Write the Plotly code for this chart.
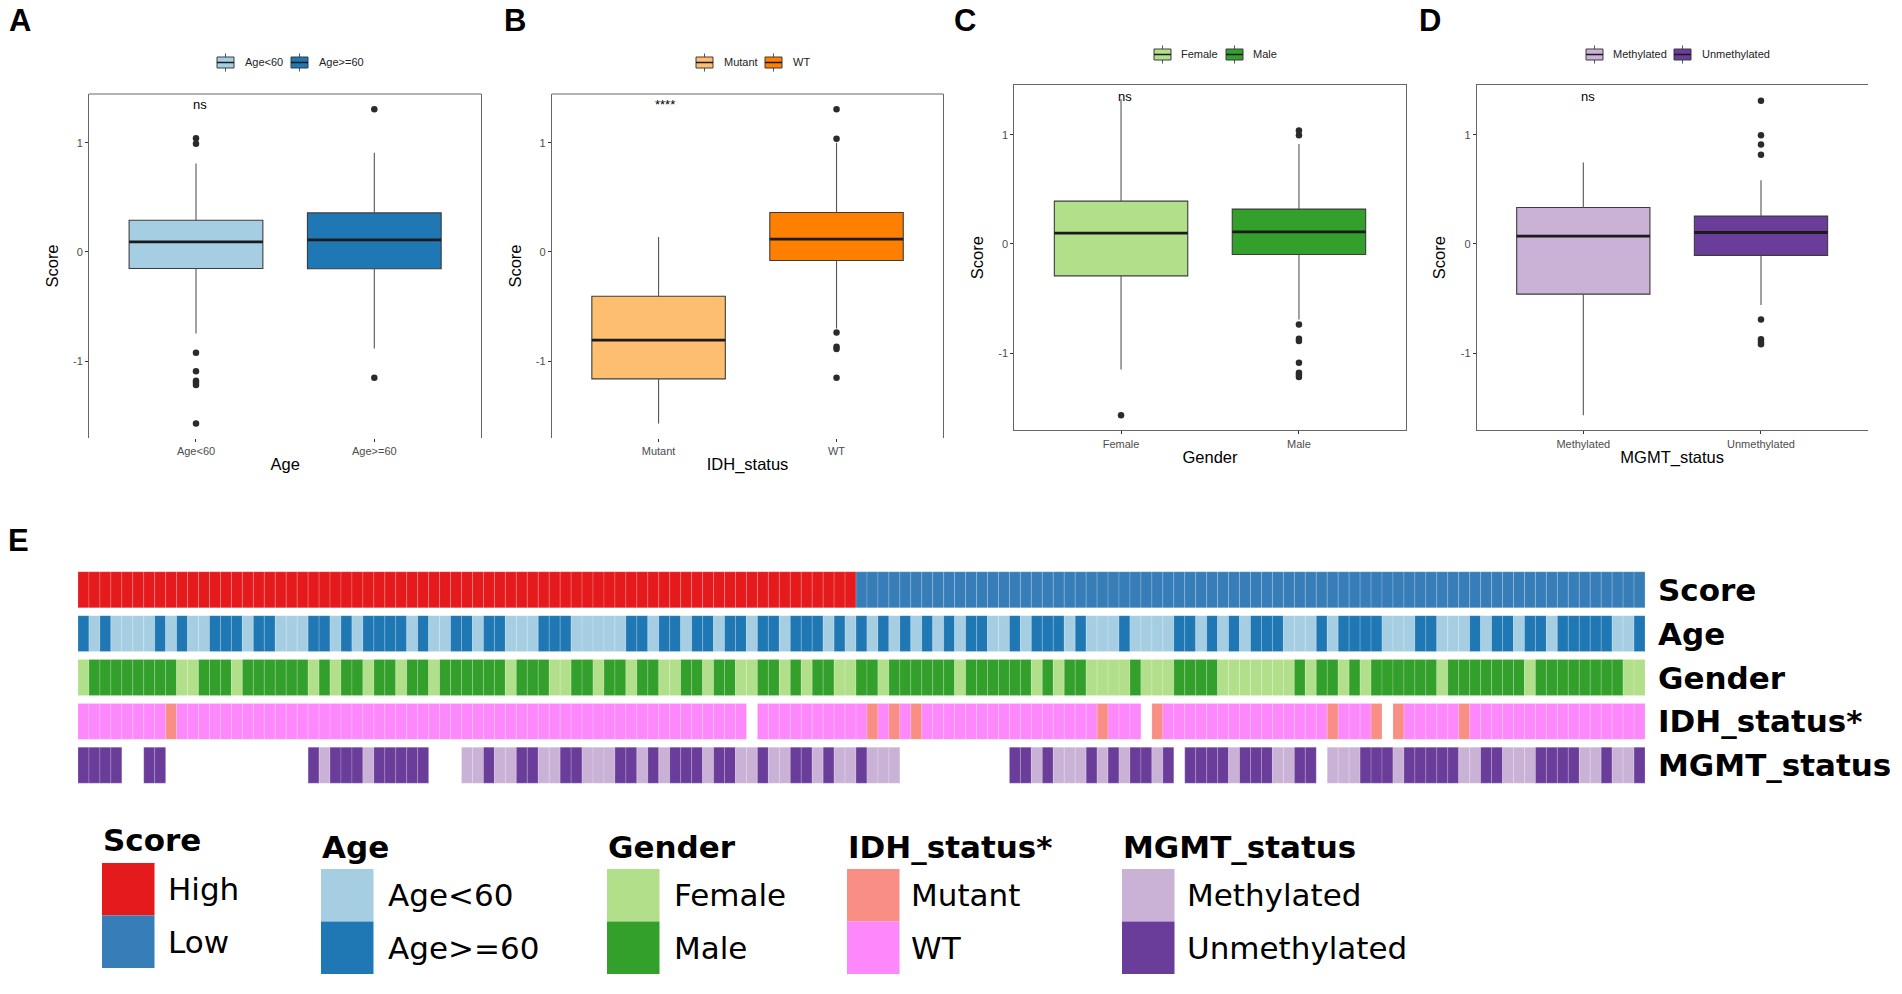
import plotly.graph_objects as go

W, H = 1902, 994


def px(x):
    return x / W


def py(y):
    return 1 - y / H


# ---------------- Box-plot data (panels A-D) ----------------
a_cats = ["Age<60", "Age>=60"]
a_q1 = [-0.152, -0.155]
a_med = [0.092, 0.110]
a_q3 = [0.290, 0.357]
a_lo = [-0.747, -0.885]
a_hi = [0.810, 0.907]
a_out = [[1.04, 0.99, -0.925, -1.093, -1.18, -1.20, -1.22, -1.572], [1.307, -1.154]]

b_cats = ["Mutant", "WT"]
b_q1 = [-1.163, -0.079]
b_med = [-0.809, 0.116]
b_q3 = [-0.406, 0.361]
b_lo = [-1.572, -0.702]
b_hi = [0.137, 1.000]
b_out = [[], [1.307, 1.035, -0.738, -0.87, -0.89, -1.154]]

c_cats = ["Female", "Male"]
c_q1 = [-0.293, -0.097]
c_med = [0.098, 0.110]
c_q3 = [0.391, 0.318]
c_lo = [-1.150, -0.692]
c_hi = [1.325, 0.915]
c_out = [[-1.569], [1.038, 0.995, -0.738, -0.87, -0.89, -1.09, -1.18, -1.20, -1.22]]

d_cats = ["Methylated", "Unmethylated"]
d_q1 = [-0.461, -0.106]
d_med = [0.070, 0.104]
d_q3 = [0.333, 0.254]
d_lo = [-1.569, -0.561]
d_hi = [0.745, 0.583]
d_out = [[], [1.31, 0.995, 0.91, 0.815, -0.692, -0.873, -0.90, -0.92]]

sig_labels = ["ns", "****", "ns", "ns"]
sig_x = [0.02, 0.035, 0.02, 0.024]
sig_y = [1.35, 1.35, 1.35, 1.35]

x_titles = ["Age", "IDH_status", "Gender", "MGMT_status"]
panel_letters = ["A", "B", "C", "D"]

# ---------------- Heatmap annotation data (panel E) ----------------
N = None
score_row = [1, 1, 1, 1, 1, 1, 1, 1, 1, 1,
             1, 1, 1, 1, 1, 1, 1, 1, 1, 1,
             1, 1, 1, 1, 1, 1, 1, 1, 1, 1,
             1, 1, 1, 1, 1, 1, 1, 1, 1, 1,
             1, 1, 1, 1, 1, 1, 1, 1, 1, 1,
             1, 1, 1, 1, 1, 1, 1, 1, 1, 1,
             1, 1, 1, 1, 1, 1, 1, 1, 1, 1,
             1, 0, 0, 0, 0, 0, 0, 0, 0, 0,
             0, 0, 0, 0, 0, 0, 0, 0, 0, 0,
             0, 0, 0, 0, 0, 0, 0, 0, 0, 0,
             0, 0, 0, 0, 0, 0, 0, 0, 0, 0,
             0, 0, 0, 0, 0, 0, 0, 0, 0, 0,
             0, 0, 0, 0, 0, 0, 0, 0, 0, 0,
             0, 0, 0, 0, 0, 0, 0, 0, 0, 0,
             0, 0, 0]  # 1 = High, 0 = Low

age_row = [1, 0, 1, 0, 0, 0, 0, 1, 0, 1,
           0, 0, 1, 1, 1, 0, 1, 1, 0, 0,
           0, 1, 1, 0, 1, 0, 1, 1, 1, 1,
           0, 1, 0, 0, 1, 1, 0, 1, 1, 0,
           0, 0, 1, 1, 1, 0, 0, 0, 0, 0,
           1, 1, 0, 1, 1, 0, 1, 1, 0, 1,
           1, 0, 1, 1, 0, 1, 1, 1, 0, 1,
           0, 1, 0, 1, 0, 1, 0, 1, 0, 1,
           0, 1, 1, 0, 0, 1, 0, 1, 1, 1,
           0, 1, 0, 0, 0, 1, 0, 0, 0, 0,
           1, 1, 0, 1, 0, 1, 0, 1, 1, 1,
           0, 0, 0, 1, 0, 1, 1, 1, 1, 0,
           0, 0, 1, 1, 0, 0, 0, 1, 0, 1,
           1, 0, 1, 1, 0, 1, 1, 1, 1, 1,
           0, 0, 1]  # 1 = Age>=60, 0 = Age<60

gender_row = [0, 1, 1, 1, 1, 1, 1, 1, 1, 0,
              0, 1, 1, 1, 0, 1, 1, 1, 1, 1,
              1, 0, 1, 0, 1, 1, 0, 1, 1, 0,
              1, 1, 0, 1, 1, 1, 1, 1, 1, 0,
              1, 1, 1, 0, 0, 1, 1, 0, 1, 1,
              0, 1, 1, 0, 0, 1, 1, 0, 1, 1,
              0, 0, 1, 1, 0, 1, 0, 1, 1, 0,
              0, 1, 1, 0, 1, 1, 1, 1, 1, 1,
              0, 1, 1, 1, 1, 1, 1, 0, 1, 0,
              1, 1, 0, 0, 0, 0, 1, 0, 0, 0,
              1, 1, 1, 1, 0, 0, 0, 0, 0, 0,
              0, 1, 0, 1, 1, 0, 1, 0, 1, 1,
              1, 1, 1, 1, 0, 1, 1, 1, 1, 1,
              1, 1, 0, 1, 1, 1, 1, 1, 1, 1,
              1, 0, 0]  # 1 = Male, 0 = Female

idh_row = [1, 1, 1, 1, 1, 1, 1, 1, 0, 1,
           1, 1, 1, 1, 1, 1, 1, 1, 1, 1,
           1, 1, 1, 1, 1, 1, 1, 1, 1, 1,
           1, 1, 1, 1, 1, 1, 1, 1, 1, 1,
           1, 1, 1, 1, 1, 1, 1, 1, 1, 1,
           1, 1, 1, 1, 1, 1, 1, 1, 1, 1,
           1, N, 1, 1, 1, 1, 1, 1, 1, 1,
           1, 1, 0, 1, 0, 1, 0, 1, 1, 1,
           1, 1, 1, 1, 1, 1, 1, 1, 1, 1,
           1, 1, 1, 0, 1, 1, 1, N, 0, 1,
           1, 1, 1, 1, 1, 1, 1, 1, 1, 1,
           1, 1, 1, 1, 0, 1, 1, 1, 0, N,
           0, 1, 1, 1, 1, 1, 0, 1, 1, 1,
           1, 1, 1, 1, 1, 1, 1, 1, 1, 1,
           1, 1, 1]  # 1 = WT, 0 = Mutant

mgmt_row = [1, 1, 1, 1, N, N, 1, 1, N, N,
            N, N, N, N, N, N, N, N, N, N,
            N, 1, 0, 1, 1, 1, 0, 1, 1, 1,
            1, 1, N, N, N, 0, 0, 1, 0, 0,
            1, 1, 0, 0, 1, 1, 0, 0, 0, 1,
            1, 0, 1, 0, 1, 1, 1, 0, 1, 1,
            0, 0, 1, 0, 0, 1, 1, 0, 1, 0,
            0, 1, 0, 0, 0, N, N, N, N, N,
            N, N, N, N, N, 1, 1, 0, 1, 0,
            0, 0, 1, 0, 1, 0, 1, 1, 0, 1,
            N, 1, 1, 1, 1, 0, 1, 1, 1, 0,
            0, 1, 1, N, 0, 0, 0, 1, 1, 1,
            0, 1, 1, 1, 1, 1, 0, 0, 1, 1,
            0, 0, 0, 1, 1, 1, 1, 0, 0, 1,
            0, 0, 1]  # 1 = Unmethylated, 0 = Methylated

row_names = ["Score", "Age", "Gender", "IDH_status*", "MGMT_status"]
row_levels = [["Low", "High"], ["Age<60", "Age>=60"], ["Female", "Male"],
              ["Mutant", "WT"], ["Methylated", "Unmethylated"]]

# colours
score_cols = ["#377EB8", "#E41A1C"]
age_cols = ["#A6CEE3", "#1F78B4"]
gender_cols = ["#B2DF8A", "#33A02C"]
idh_cols = ["#F98F84", "#FD88FB"]
mgmt_cols = ["#CAB2D6", "#6A3D9A"]
box_a_cols = ["#A6CEE3", "#1F78B4"]
box_b_cols = ["#FDBF6F", "#FF7F00"]
box_c_cols = ["#B2DF8A", "#33A02C"]
box_d_cols = ["#CAB2D6", "#6A3D9A"]

fig = go.Figure()

panels = [
    (a_cats, a_q1, a_med, a_q3, a_lo, a_hi, a_out, box_a_cols),
    (b_cats, b_q1, b_med, b_q3, b_lo, b_hi, b_out, box_b_cols),
    (c_cats, c_q1, c_med, c_q3, c_lo, c_hi, c_out, box_c_cols),
    (d_cats, d_q1, d_med, d_q3, d_lo, d_hi, d_out, box_d_cols),
]

BOXW = 0.75
EDGE = "#3c3c3c"
for k, (cats, q1, med, q3, lo, hi, outs, cols) in enumerate(panels, start=1):
    xa = "x" if k == 1 else f"x{k}"
    ya = "y" if k == 1 else f"y{k}"
    for i, cat in enumerate(cats):
        fig.add_trace(go.Scatter(
            x=[i, i, None, i, i], y=[q3[i], hi[i], None, q1[i], lo[i]], mode="lines",
            line=dict(color="#555555", width=1.1), showlegend=False,
            xaxis=xa, yaxis=ya, hoverinfo="skip"))
        fig.add_trace(go.Bar(
            x=[i], y=[q3[i] - q1[i]], base=[q1[i]], width=BOXW,
            marker=dict(color=cols[i], line=dict(color=EDGE, width=1.1)),
            name=cat, showlegend=False, xaxis=xa, yaxis=ya, hoverinfo="skip"))
        fig.add_trace(go.Scatter(
            x=[i - BOXW / 2, i + BOXW / 2], y=[med[i], med[i]], mode="lines",
            line=dict(color="#1b1b1b", width=2.8), showlegend=False,
            xaxis=xa, yaxis=ya, hoverinfo="skip"))
        if outs[i]:
            fig.add_trace(go.Scatter(
                x=[i] * len(outs[i]), y=outs[i], mode="markers",
                marker=dict(size=6.5, color="#2b2b2b"), showlegend=False,
                xaxis=xa, yaxis=ya, hoverinfo="skip"))

# heatmap rows drawn as unit-width cells (bars) on a numeric axis
rows = [score_row, age_row, gender_row, idh_row, mgmt_row]
row_cols = [score_cols, age_cols, gender_cols, idh_cols, mgmt_cols]
CELL_H = 0.82
n_rows = len(rows)
for r, (name, vals, cols) in enumerate(zip(row_names, rows, row_cols)):
    centre = n_rows - 1 - r
    heights = [CELL_H if v is not None else None for v in vals]
    colors = [cols[v] if v is not None else "rgba(0,0,0,0)" for v in vals]
    fig.add_trace(go.Bar(
        x=list(range(len(vals))), y=heights, base=centre - CELL_H / 2, width=1,
        marker=dict(color=colors, line=dict(color="rgba(255,255,255,0.3)", width=0.6)),
        name=name, showlegend=False, xaxis="x5", yaxis="y5", hoverinfo="skip"))

# ---------------- layout ----------------
base_font = "Liberation Sans"
tick_font = dict(family=base_font, size=11, color="#4d4d4d")
title_font = dict(family=base_font, size=16.5, color="#000000")

panel_x = [(89, 481.3), (551.8, 943.3), (1014.3, 1405.7), (1476.7, 1867.6)]
panel_y = [(94, 438), (94, 438), (85, 430.3), (85, 430.3)]
panel_range = [(-1.705, 1.446), (-1.705, 1.446), (-1.708, 1.455), (-1.708, 1.455)]
legend_keys = [
    ([217, 291], [243, 317], 62.5),
    ([696, 765], [722, 791], 62.5),
    ([1154, 1226], [1179, 1251], 54.5),
    ([1586, 1674], [1611, 1700], 54.5),
]
letter_x = [7, 502, 952, 1417]

layout = dict(
    width=W, height=H, margin=dict(l=0, r=0, t=0, b=0),
    paper_bgcolor="white", plot_bgcolor="white",
    font=dict(family=base_font, color="#000000"),
    showlegend=False, barmode="overlay",
)

annotations = []
shapes = []
for k in range(1, 5):
    sfx = "" if k == 1 else str(k)
    x0, x1 = panel_x[k - 1]
    y0, y1 = panel_y[k - 1]
    cats = panels[k - 1][0]
    cols = panels[k - 1][7]
    full_box_x = k in (3, 4)
    layout[f"xaxis{sfx}"] = dict(
        domain=[px(x0), px(x1)], range=[-0.6, 1.6], anchor=f"y{sfx}",
        tickvals=[0, 1], ticktext=cats, ticks="outside", ticklen=3,
        tickcolor="#333333", tickfont=tick_font, showgrid=False, zeroline=False,
        showline=full_box_x, mirror=True if full_box_x else False,
        linecolor="#666666", linewidth=1,
        title=dict(text=x_titles[k - 1], font=title_font, standoff=2),
        fixedrange=True)
    layout[f"yaxis{sfx}"] = dict(
        domain=[py(y1), py(y0)], range=list(panel_range[k - 1]), anchor=f"x{sfx}",
        tickvals=[-1, 0, 1], ticktext=["-1", "0", "1"], ticks="outside", ticklen=3,
        tickcolor="#333333", tickfont=tick_font, showgrid=False, zeroline=False,
        showline=True, mirror=(k != 4), linecolor="#666666", linewidth=1,
        title=dict(text="Score", font=title_font, standoff=10),
        fixedrange=True)
    if not full_box_x:
        shapes.append(dict(type="line", xref="paper", yref="paper",
                           x0=px(x0), x1=px(x1), y0=py(y0), y1=py(y0),
                           line=dict(color="#666666", width=1)))
    kx, tx, ky = legend_keys[k - 1]
    for i, cat in enumerate(cats):
        shapes.append(dict(type="line", xref="paper", yref="paper",
                           x0=px(kx[i] + 8.5), x1=px(kx[i] + 8.5),
                           y0=py(ky - 9), y1=py(ky + 9),
                           line=dict(color="#555555", width=1)))
        shapes.append(dict(type="rect", xref="paper", yref="paper",
                           x0=px(kx[i]), x1=px(kx[i] + 17),
                           y0=py(ky + 5.5), y1=py(ky - 5.5),
                           fillcolor=cols[i], line=dict(color=EDGE, width=1)))
        shapes.append(dict(type="line", xref="paper", yref="paper",
                           x0=px(kx[i]), x1=px(kx[i] + 17), y0=py(ky), y1=py(ky),
                           line=dict(color="#1b1b1b", width=1.5)))
        annotations.append(dict(
            text=cat, x=px(tx[i]), y=py(ky), xref="paper", yref="paper",
            showarrow=False, xanchor="left", yanchor="middle",
            font=dict(family=base_font, size=11, color="#222222")))
    annotations.append(dict(
        text=sig_labels[k - 1], x=sig_x[k - 1], y=sig_y[k - 1],
        xref=f"x{sfx}", yref=f"y{sfx}", showarrow=False,
        font=dict(family=base_font, size=13, color="#000000"),
        xanchor="center", yanchor="middle"))
    annotations.append(dict(
        text=f"<b>{panel_letters[k - 1]}</b>", x=px(letter_x[k - 1]), y=py(1),
        xref="paper", yref="paper", showarrow=False, xanchor="left", yanchor="top",
        font=dict(family=base_font, size=31, color="#000000")))

annotations.append(dict(
    text="<b>E</b>", x=px(6), y=py(521), xref="paper", yref="paper",
    showarrow=False, xanchor="left", yanchor="top",
    font=dict(family=base_font, size=31, color="#000000")))

n_cols = len(score_row)
layout["xaxis5"] = dict(domain=[px(78), px(1645)], range=[-0.5, n_cols - 0.5],
                        anchor="y5", visible=False, fixedrange=True)
layout["yaxis5"] = dict(domain=[py(787.15), py(567.85)], anchor="x5",
                        range=[-0.5, n_rows - 0.5], visible=False, fixedrange=True)

label_font = "DejaVu Sans"
for r, name in enumerate(row_names):
    annotations.append(dict(
        text=f"<b>{name}</b>", x=px(1656), y=n_rows - 1 - r, xref="paper", yref="y5",
        showarrow=False, xanchor="left", yanchor="middle",
        font=dict(family=label_font, size=31, color="#000000")))

# heatmap legend (E)
leg_swatch_x = [102, 321, 607, 847, 1122]
leg_label_x = [166, 386, 672, 909, 1185]
leg_title_y = [840, 847, 847, 847, 847]
leg_sw_top = [863, 869, 869, 869, 869]
SW = 52.5
for j in range(5):
    sx = leg_swatch_x[j]
    annotations.append(dict(
        text=f"<b>{row_names[j]}</b>", x=px(sx - 1), y=py(leg_title_y[j]),
        xref="paper", yref="paper", showarrow=False, xanchor="left", yanchor="middle",
        font=dict(family=label_font, size=31, color="#000000")))
    levels = row_levels[j]
    cols = row_cols[j]
    order = [1, 0] if j == 0 else [0, 1]
    for r, lvl_idx in enumerate(order):
        top = leg_sw_top[j] + r * SW
        shapes.append(dict(type="rect", xref="paper", yref="paper",
                           x0=px(sx), x1=px(sx + SW), y0=py(top + SW), y1=py(top),
                           fillcolor=cols[lvl_idx], line=dict(width=0)))
        annotations.append(dict(
            text=levels[lvl_idx], x=px(leg_label_x[j]), y=py(top + SW / 2),
            xref="paper", yref="paper", showarrow=False, xanchor="left",
            yanchor="middle",
            font=dict(family=label_font, size=31, color="#000000")))

layout["annotations"] = annotations
layout["shapes"] = shapes
fig.update_layout(**layout)

fig.write_html("out.html", config={"displayModeBar": False},
               post_script="document.body.style.margin='0';"
                           "document.body.style.overflow='hidden';")
